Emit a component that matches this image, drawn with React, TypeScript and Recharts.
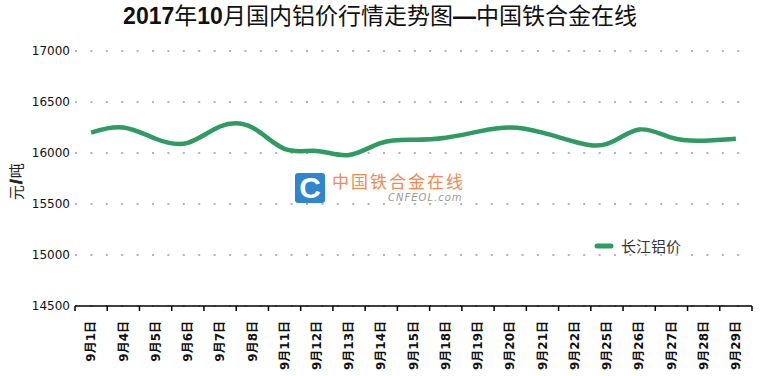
import React from 'react';
import { LineChart, Line, XAxis, YAxis, CartesianGrid, Legend } from 'recharts';

const titleParts = ['2017', '年', '10', '月国内铝价行情走势图', '—', '中国铁合金在线'];
const seriesName = '长江铝价';
const unitParts = ['元', '/', '吨'];

const dates = [
  '9月1日', '9月4日', '9月5日', '9月6日', '9月7日', '9月8日', '9月11日',
  '9月12日', '9月13日', '9月14日', '9月15日', '9月18日', '9月19日', '9月20日',
  '9月21日', '9月22日', '9月25日', '9月26日', '9月27日', '9月28日', '9月29日',
];
const prices = [
  16200, 16250, 16140, 16100, 16260, 16250, 16040,
  16020, 15980, 16100, 16130, 16150, 16210, 16250,
  16200, 16110, 16090, 16230, 16150, 16120, 16140,
];
const yTicks = [14500, 15000, 15500, 16000, 16500, 17000];

const data = dates.map((d, i) => ({ date: d, price: prices[i] }));

const LINE_COLOR = '#2e9b63';

const DateTick = (props: any) => {
  const { x, y, payload, index } = props;
  const half = payload?.offset || 677 / dates.length / 2;
  const axisY = y - 5;
  return (
    <g>
      <line x1={x - half} x2={x - half} y1={axisY} y2={axisY + 5} stroke="#000" strokeWidth={1.5} />
      {index === dates.length - 1 && (
        <line x1={x + half} x2={x + half} y1={axisY} y2={axisY + 5} stroke="#000" strokeWidth={1.5} />
      )}
      <g transform={`translate(${x},${y + 10})`}>
        <text
          transform="rotate(-90)"
          textAnchor="end"
          dy="0.35em"
          fontSize={12}
          fontWeight="bold"
          fill="#111"
          fontFamily="'DejaVu Sans', 'Noto Sans CJK SC', sans-serif"
        >
          {payload.value}
        </text>
      </g>
    </g>
  );
};

const UnitLabel = (props: any) => {
  const vb = props.viewBox || {};
  const cy = vb.y + vb.height / 2 + 3;
  return (
    <text
      x={17}
      y={cy}
      transform={`rotate(-90, 17, ${cy})`}
      textAnchor="middle"
      dy="0.35em"
      fontSize={15}
      fill="#222"
      fontFamily="'Noto Sans CJK SC', sans-serif"
    >
      <tspan>{unitParts[0]}</tspan>
      <tspan fontWeight="bold" fontSize={17} fontFamily="'Liberation Sans', sans-serif" dx={1} stroke="#222" strokeWidth={0.8}>{unitParts[1]}</tspan>
      <tspan dx={1}>{unitParts[2]}</tspan>
    </text>
  );
};

const LegendContent = () => (
  <div style={{ display: 'flex', alignItems: 'center', fontFamily: "'Noto Sans CJK SC', sans-serif" }}>
    <svg width={20} height={10}>
      <line x1={3} x2={17} y1={5} y2={5} stroke={LINE_COLOR} strokeWidth={5} strokeLinecap="round" />
    </svg>
    <span style={{ marginLeft: 7, fontSize: 15, color: '#333' }}>{seriesName}</span>
  </div>
);

const Watermark = () => (
  <div style={{ position: 'absolute', left: 295, top: 173, pointerEvents: 'none' }}>
    <div
      style={{
        position: 'absolute', left: 0, top: 0, width: 30, height: 30, borderRadius: 3,
        background: '#2f86cc', color: '#fff', fontFamily: "'Liberation Sans', Arial, sans-serif",
        fontWeight: 'bold', fontSize: 30, lineHeight: '30px', textAlign: 'center',
      }}
    >
      C
    </div>
    <div
      style={{
        position: 'absolute', left: 37, top: -3, whiteSpace: 'nowrap', color: '#f38a52',
        fontFamily: "'Noto Sans CJK SC', sans-serif", fontSize: 17, letterSpacing: 2, lineHeight: '22px',
      }}
    >
      中国铁合金在线
    </div>
    <div
      style={{
        position: 'absolute', left: 93, top: 19, whiteSpace: 'nowrap', color: '#999',
        fontFamily: "'DejaVu Sans', sans-serif", fontStyle: 'italic', fontSize: 10, letterSpacing: 1,
      }}
    >
      CNFEOL.com
    </div>
  </div>
);

const Title = () => (
  <div
    style={{
      position: 'absolute', left: 0, top: 1, width: 760, textAlign: 'center',
      fontFamily: "'Liberation Sans', 'Noto Sans CJK SC', sans-serif",
      fontSize: 23, color: '#111', lineHeight: '30px', whiteSpace: 'nowrap',
    }}
  >
    {titleParts.map((p, i) => (
      <span key={i} style={{ fontWeight: i % 2 === 0 || i === 4 ? 'bold' : 'normal' }}>{p}</span>
    ))}
  </div>
);

export default function App() {
  return (
    <div style={{ position: 'absolute', left: 0, top: 0, width: 760, height: 376, background: '#fff' }}>
      <Title />
      <Watermark />
      <div style={{ position: 'absolute', left: 0, top: 0 }}>
        <LineChart width={760} height={376} data={data} margin={{ top: 51, right: 8, bottom: 0, left: 0 }}>
          <CartesianGrid vertical={false} stroke="#b5b5b5" strokeWidth={2} strokeDasharray="2 13.4" />
          <XAxis
            dataKey="date"
            scale="band"
            interval={0}
            height={70}
            tickSize={5}
            tickMargin={0}
            tickLine={false}
            axisLine={{ stroke: '#000', strokeWidth: 1.5 }}
            tick={<DateTick />}
          />
          <YAxis
            width={75}
            domain={[14500, 17000]}
            ticks={yTicks}
            axisLine={false}
            tickLine={false}
            tickSize={3}
            tickMargin={2}
            tick={{ fontSize: 12, fill: '#111', fontFamily: "'DejaVu Sans', sans-serif" }}
            label={<UnitLabel />}
          />
          <Legend
            verticalAlign="middle"
            layout="horizontal"
            wrapperStyle={{ position: 'absolute', left: 594, top: 235, width: 'auto' }}
            content={<LegendContent />}
          />
          <Line
            type="natural"
            dataKey="price"
            name={seriesName}
            stroke={LINE_COLOR}
            strokeWidth={4.5}
            dot={false}
            activeDot={false}
            isAnimationActive={false}
          />
        </LineChart>
      </div>
    </div>
  );
}
